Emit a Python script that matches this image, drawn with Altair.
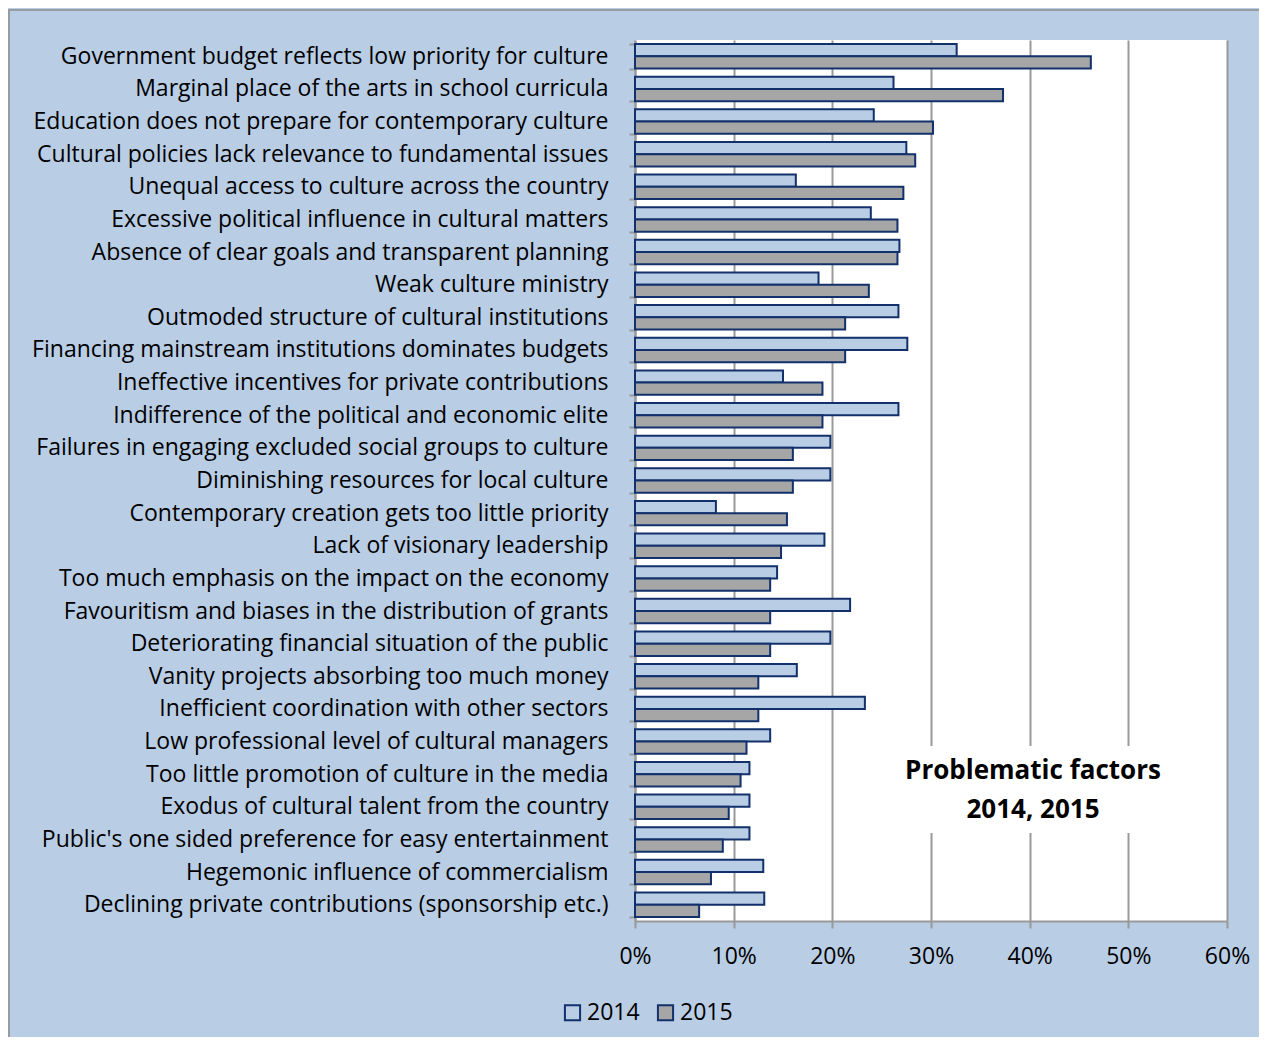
import altair as alt
import pandas as pd

categories = [
    "Government budget reflects low priority for culture",
    "Marginal place of the arts in school curricula",
    "Education does not prepare for contemporary culture",
    "Cultural policies lack relevance to fundamental issues\u00a0",
    "Unequal access to culture across the country",
    "Excessive political influence in cultural matters",
    "Absence of clear goals and transparent planning",
    "Weak culture ministry",
    "Outmoded structure of cultural institutions",
    "Financing mainstream institutions dominates budgets",
    "Ineffective incentives for private contributions",
    "Indifference of the political and economic elite",
    "Failures in engaging excluded social groups to culture",
    "Diminishing resources for local culture",
    "Contemporary creation gets too little priority",
    "Lack of visionary leadership\u00a0",
    "Too much emphasis on the impact on the economy",
    "Favouritism and biases in the distribution of grants\u00a0",
    "Deteriorating financial situation of the public",
    "Vanity projects absorbing too much money",
    "Inefficient coordination with other sectors",
    "Low professional level of cultural managers",
    "Too little promotion of culture in the media",
    "Exodus of cultural talent from the country",
    "Public's one sided preference for easy entertainment",
    "Hegemonic influence of commercialism\u00a0",
    "Declining private contributions (sponsorship etc.)",
]
values_2014 = [32.6, 26.2, 24.2, 27.5, 16.3, 23.9, 26.8, 18.6, 26.7, 27.6, 15.0, 26.7, 19.8, 19.8,
               8.2, 19.2, 14.4, 21.8, 19.8, 16.4, 23.3, 13.7, 11.6, 11.6, 11.6, 13.0, 13.1]
values_2015 = [46.2, 37.3, 30.2, 28.4, 27.2, 26.6, 26.6, 23.7, 21.3, 21.3, 19.0, 19.0, 16.0, 16.0,
               15.4, 14.8, 13.7, 13.7, 13.7, 12.5, 12.5, 11.3, 10.7, 9.5, 8.9, 7.7, 6.5]
years = ["2014", "2015"]
title_lines = ["Problematic factors", "2014, 2015"]

rows = []
for c, a, b in zip(categories, values_2014, values_2015):
    rows.append({"factor": c, "year": years[0], "share": a / 100})
    rows.append({"factor": c, "year": years[1], "share": b / 100})
df = pd.DataFrame(rows)

FONT = "Open Sans"
BG = "#B9CDE5"
NAVY = "#12306B"
GRID = "#999999"

bars = alt.Chart(df).mark_bar(stroke=NAVY, strokeWidth=2).encode(
    y=alt.Y("factor:N", sort=categories, title=None,
            scale=alt.Scale(paddingInner=0.25, paddingOuter=0.125),
            axis=alt.Axis(labelFontSize=23, labelFont=FONT, labelColor="#000000",
                          labelPadding=21, labelLimit=700, tickSize=6, tickColor=GRID,
                          tickWidth=2, domainColor=GRID, domainWidth=2, tickBand="extent",
                          grid=False)),
    yOffset=alt.YOffset("year:N", sort=years),
    x=alt.X("share:Q", title=None,
            scale=alt.Scale(domain=[0, 0.6], nice=False),
            axis=alt.Axis(format="%", values=[0, 0.1, 0.2, 0.3, 0.4, 0.5, 0.6],
                          labelFontSize=23, labelFont=FONT, labelColor="#000000",
                          labelFlush=False, labelPadding=17, tickSize=7, tickColor=GRID,
                          tickWidth=2, domainColor=GRID, domainWidth=2, grid=True,
                          gridColor=GRID, gridWidth=2)),
    fill=alt.Fill("year:N", sort=years,
                  scale=alt.Scale(domain=years, range=[BG, "#A6A6A6"]),
                  legend=alt.Legend(title=None, orient="none", legendX=-74, legendY=961,
                                    direction="horizontal", symbolType="square",
                                    symbolSize=230, symbolStrokeColor=NAVY,
                                    symbolStrokeWidth=2, labelFontSize=23, labelFont=FONT,
                                    labelColor="#000000", columnPadding=13, labelOffset=3)),
)

frame = alt.Chart(pd.DataFrame({"t": [0]})).mark_rect(
    fill=None, stroke="#8C8C8C", strokeWidth=1.5
).encode(x=alt.value(-626), x2=alt.value(700), y=alt.value(-30), y2=alt.value(1100))

title_box = alt.Chart(pd.DataFrame({"t": [0]})).mark_rect(fill="white").encode(
    x=alt.value(262), x2=alt.value(535), y=alt.value(706), y2=alt.value(793)
)

title_1 = alt.Chart(pd.DataFrame({"t": [0]})).mark_text(
    font=FONT, fontSize=26, fontWeight="bold", color="#000000", align="center",
    baseline="middle", text=title_lines[0]
).encode(x=alt.value(398), y=alt.value(731))

title_2 = alt.Chart(pd.DataFrame({"t": [0]})).mark_text(
    font=FONT, fontSize=26, fontWeight="bold", color="#000000", align="center",
    baseline="middle", text=title_lines[1]
).encode(x=alt.value(398), y=alt.value(770))

chart = alt.layer(frame, bars, title_box, title_1, title_2).properties(
    width=592, height=881, background=BG,
    padding={"left": 627, "top": 32, "right": 32, "bottom": 116},
    autosize=alt.AutoSizeParams(type="none"),
).configure_view(fill="white", stroke=None)

chart.save("out.html", embed_options={"renderer": "svg", "actions": False})
